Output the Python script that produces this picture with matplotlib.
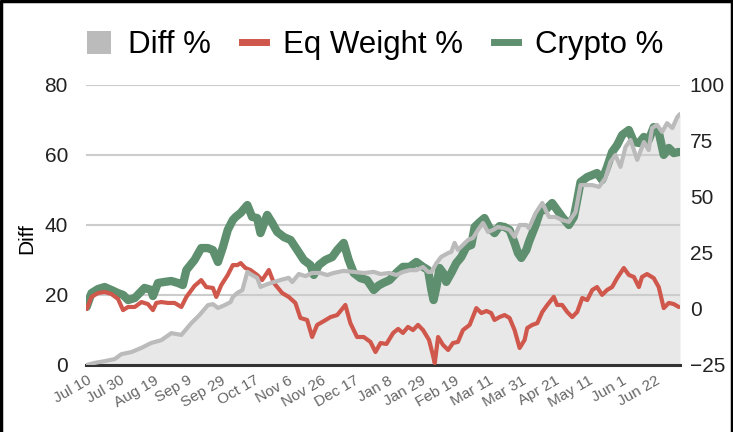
import matplotlib
matplotlib.use('Agg')
import matplotlib.pyplot as plt
from matplotlib.patches import Patch
from matplotlib.lines import Line2D

plt.rcParams['font.family'] = ['Liberation Sans', 'DejaVu Sans']

# trading-day index -> value
diff_day = [0, 3.3, 7.5, 11.7, 14.5, 18.7, 22.9, 27.0, 31.2, 35.4, 39.6, 43.8, 47.2, 50.7,
            52.8, 54.9, 57.7, 60.2, 61.1, 63.0, 65.1, 67.2, 69.2, 71.3, 72.7, 75.5, 78.3,
            81.1, 84.5, 86.0, 88.7, 91.5, 94.3, 97.8, 100.6, 103.3, 107.5, 111.7, 115.9,
            120.1, 122.9, 126.7, 129.5, 132.3, 135.1, 137.9, 140.7, 142.8, 144.2, 146.3,
            148.3, 151.2, 152.5, 153.9, 155.3, 157.4, 159.5, 161.6, 163.7, 165.8, 167.9,
            170.0, 172.0, 174.8, 176.9, 179.0, 181.1, 183.9, 185.0, 187.8, 190.6, 193.4,
            196.1, 198.9, 201.7, 204.5, 206.6, 208.7, 211.5, 214.3, 217.0, 219.1, 221.2,
            223.3, 225.4, 227.5, 230.3, 233.1, 235.1, 236.5, 238.6, 240.7, 242.8, 245.0,
            247.1, 248.2]
diff_pct = [0, 0.6, 1.1, 1.7, 3.1, 3.7, 4.9, 6.3, 7.1, 9.1, 8.6, 12.0, 14.3, 17.1,
            17.4, 16.3, 17.1, 18.0, 19.4, 20.6, 21.4, 26.6, 25.7, 24.9, 22.3, 23.1, 23.7,
            24.3, 24.9, 23.7, 26.0, 25.4, 26.3, 26.3, 25.7, 26.3, 26.9, 26.6, 26.3,
            26.6, 26.0, 26.3, 25.7, 26.6, 27.1, 27.1, 28.0, 26.6, 26.6, 29.1,
            30.9, 32.0, 32.3, 34.9, 32.9, 34.3, 35.7, 36.3, 38.6, 40.6, 38.0,
            38.6, 39.4, 39.1, 38.6, 36.6, 40.0, 40.0, 39.1, 43.4, 46.3, 42.3,
            42.3, 41.4, 40.9, 43.7, 51.4, 51.4, 51.4, 50.9, 53.4, 58.0, 60.0,
            56.6, 62.3, 64.3, 58.6, 63.7, 61.4, 67.7, 68.6, 66.6, 69.1, 67.7,
            70.9, 71.7]

eq_day = [0, 2.0, 4.7, 7.5, 10.3, 13.1, 15.2, 17.3, 20.1, 22.9, 25.6, 27.7, 29.1, 31.2,
          34.0, 36.8, 39.6, 41.7, 45.1, 47.9, 50.0, 52.8, 54.2, 56.3, 59.0, 61.1, 63.0,
          64.4, 66.4, 68.5, 71.3, 73.4, 76.2, 78.3, 81.8, 84.5, 87.3, 89.4, 92.2, 94.3,
          96.4, 99.2, 102.0, 104.8, 108.2, 110.3, 113.1, 115.9, 118.7, 120.8, 122.9,
          125.4, 128.2, 130.3, 132.3, 134.4, 136.5, 138.6, 140.7, 143.2, 144.6, 145.6,
          147.0, 149.1, 151.2, 153.2, 155.3, 157.4, 160.2, 163.0, 165.1, 167.2, 169.2,
          170.6, 172.7, 174.8, 176.9, 179.0, 181.1, 183.2, 184.3, 186.4, 188.5, 190.6,
          192.7, 195.4, 196.8, 198.9, 201.0, 203.1, 205.2, 207.3, 209.4, 211.5, 213.5,
          215.6, 217.7, 219.8, 221.9, 224.7, 226.8, 228.9, 231.0, 232.3, 234.4, 237.2,
          239.3, 241.4, 243.5, 245.6, 247.7]
eq_pct = [0.0, 5.4, 7.1, 7.6, 6.7, 4.5, -0.5, 0.9, 0.9, 3.1, 2.2, -0.5, 2.7, 3.1,
          2.7, 2.7, 0.9, 5.4, 10.3, 12.9, 9.8, 9.4, 5.4, 10.7, 15.2, 19.6, 19.6,
          20.5, 18.3, 17.4, 15.2, 12.9, 17.4, 11.6, 7.1, 5.4, 2.7, -4.0, -4.9, -12.5,
          -7.1, -5.4, -3.6, -2.7, 1.8, -6.3, -12.5, -12.5, -14.7, -19.2, -15.2,
          -15.6, -10.7, -8.9, -10.7, -8.0, -9.4, -7.1, -9.4, -13.8, -19.6, -24.1,
          -12.5, -16.1, -18.3, -15.2, -14.7, -9.4, -7.1, 0.4, -1.8, -0.9, -1.8,
          -4.9, -3.6, -2.7, -4.0, -9.4, -17.4, -13.8, -8.5, -7.1, -6.3, -1.3,
          1.8, 5.4, 1.8, 1.8, -1.3, -3.6, -1.3, 4.9, 4.0, 8.5, 9.8,
          6.3, 8.5, 9.8, 13.8, 18.3, 15.2, 14.3, 9.8, 14.3, 15.6, 13.8,
          9.8, 0.4, 2.7, 2.2, 0.9]

crypto_day = [0, 2.0, 4.7, 7.5, 10.3, 13.1, 15.2, 17.3, 20.1, 22.1, 24.2, 27.0, 27.7, 29.8,
              32.6, 35.4, 38.2, 40.2, 41.7, 45.1, 47.9, 50.7, 52.8, 54.9, 57.0, 59.0, 61.1,
              62.3, 64.4, 67.2, 69.2, 71.3, 72.7, 75.5, 77.6, 79.7, 82.5, 85.3, 88.1, 90.8,
              93.6, 95.0, 97.1, 99.9, 102.7, 104.8, 107.5, 109.6, 111.7, 114.5, 117.3,
              120.1, 122.1, 124.0, 126.7, 129.5, 132.3, 135.1, 137.9, 140.7, 142.8, 144.2,
              145.1, 146.3, 147.6, 149.1, 150.4, 152.5, 154.6, 156.7, 158.8, 160.9, 162.3,
              164.4, 166.4, 168.5, 170.6, 172.7, 174.8, 176.9, 179.0, 180.4, 181.8, 183.9,
              185.0, 187.8, 189.9, 191.9, 194.7, 196.8, 198.9, 201.7, 203.8, 205.2, 206.6,
              209.4, 211.5, 213.5, 215.6, 217.7, 219.8, 221.9, 224.0, 226.8, 228.9, 231.0,
              233.1, 235.1, 237.2, 239.3, 241.4, 243.5, 245.6, 247.7]
crypto_pct = [1.0, 7.1, 8.9, 9.8, 8.5, 7.1, 6.3, 4.0, 4.9, 7.1, 9.4, 8.5, 5.8, 11.6,
              12.1, 12.5, 11.6, 10.7, 17.4, 21.9, 27.2, 27.2, 26.3, 21.0, 27.7, 35.3, 39.7,
              41.1, 42.9, 46.4, 41.1, 40.6, 33.9, 42.0, 38.4, 34.4, 32.1, 30.8, 26.3, 21.9,
              19.6, 15.2, 19.6, 21.9, 23.2, 26.3, 29.5, 21.9, 16.1, 13.8, 12.9,
              8.5, 10.5, 11.6, 12.9, 16.1, 18.8, 18.8, 21.0, 18.8, 17.4, 8.5,
              4.0, 9.8, 18.3, 16.1, 12.1, 16.1, 20.5, 23.2, 27.7, 28.6, 36.6,
              38.8, 40.6, 36.2, 33.9, 37.0, 36.6, 35.3, 29.5, 25.0, 22.8, 26.3,
              29.9, 37.5, 44.2, 44.2, 47.3, 44.2, 41.1, 37.5, 41.1, 48.7, 56.7,
              58.9, 59.8, 60.7, 57.6, 63.4, 70.1, 73.2, 77.7, 79.9, 74.6, 74.1,
              76.8, 75.4, 81.2, 79.0, 68.8, 71.9, 69.6, 70.1]

tick_labels = ['Jul 10', 'Jul 30', 'Aug 19', 'Sep 9', 'Sep 29', 'Oct 17', 'Nov 6', 'Nov 26',
               'Dec 17', 'Jan 8', 'Jan 29', 'Feb 19', 'Mar 11', 'Mar 31', 'Apr 21', 'May 11',
               'Jun 1', 'Jun 22']
tick_step = 14

GREY = '#bbbbbb'
RED = '#d0574b'
GREEN = '#5e8f6f'

fig = plt.figure(figsize=(7.33, 4.32), dpi=100)
ax = fig.add_axes([86 / 733, 67 / 432, 594 / 733, 280 / 432])
ax2 = ax.twinx()
ax3 = ax.twinx()

# left axis: area + grid
ax.fill_between(diff_day, 0, diff_pct, color='#e8e8e8', lw=0, zorder=0)
ax.set_ylim(0, 80)
ax.set_yticks([0, 20, 40, 60, 80])
ax.yaxis.grid(True, color='#cccccc', lw=1.5, zorder=1)
ax.set_axisbelow(False)
ax.axhline(0, color='#333333', lw=2.2, zorder=3, clip_on=False)
ax.set_ylabel('Diff', fontsize=15)
ax.yaxis.set_label_coords(-0.083, 0.45)

# right axis: returns
ax2.plot(crypto_day, crypto_pct, color=GREEN, lw=6, solid_capstyle='round', solid_joinstyle='round')
ax2.plot(eq_day, eq_pct, color=RED, lw=3, solid_capstyle='round', solid_joinstyle='round')
ax2.set_ylim(-25, 100)
ax2.set_yticks([-25, 0, 25, 50, 75, 100])

# diff line on top
ax3.plot(diff_day, diff_pct, color=GREY, lw=3, solid_capstyle='round', solid_joinstyle='round')
ax3.set_ylim(0, 80)
ax3.set_yticks([])

for a in (ax, ax2, ax3):
    for s in a.spines.values():
        s.set_visible(False)
    a.set_xlim(-0.3, 248.2)

ax.tick_params(axis='y', length=0, labelsize=15, pad=13, colors='#222222')
ax2.tick_params(axis='y', length=0, labelsize=15, pad=7, colors='#222222')

ax.set_xticks([i * tick_step for i in range(len(tick_labels))])
ax.set_xticklabels(tick_labels, rotation=30, ha='right', rotation_mode='anchor',
                   fontsize=11, color='#666666')
ax.tick_params(axis='x', length=0, pad=6)

handles = [Patch(facecolor=GREY, edgecolor='none'),
           Line2D([], [], color=RED, lw=5),
           Line2D([], [], color=GREEN, lw=5)]
fig.legend(handles, ['Diff %', 'Eq Weight %', 'Crypto %'], loc='upper center',
           bbox_to_anchor=(0.512, 0.995), ncol=3, frameon=False, fontsize=22.5,
           handlelength=0.75, handleheight=0.75, handletextpad=0.55, columnspacing=1.0)

# frame around the picture (left, top, right)
fig.add_artist(Line2D([0.0015, 0.0015, 0.9985, 0.9985], [0, 0.997, 0.997, 0],
                      transform=fig.transFigure, color='black', lw=2.5))

fig.savefig('out.png', dpi=100)
